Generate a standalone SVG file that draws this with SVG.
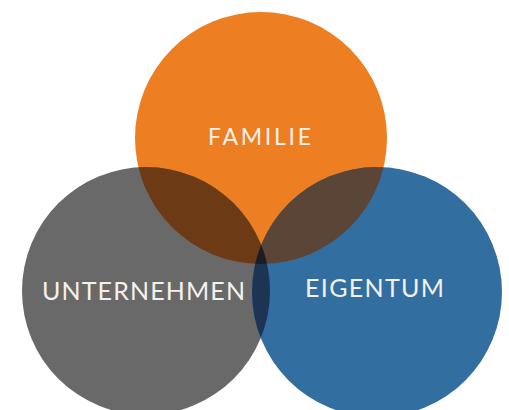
<svg xmlns="http://www.w3.org/2000/svg" width="509" height="410" viewBox="0 0 509 410">
  <style>
    .lbl { font-family: Lato, "Open Sans", "Liberation Sans", sans-serif; font-size: 25px; fill: #f4f1ec; letter-spacing: 1px; }
  </style>
  <defs>
    <clipPath id="cO"><circle cx="261" cy="138" r="126"/></clipPath>
    <clipPath id="cG"><circle cx="146" cy="291" r="124"/></clipPath>
    <clipPath id="cB"><circle cx="377" cy="292" r="125"/></clipPath>
  </defs>
  <rect width="509" height="410" fill="#ffffff"/>
  <g id="familie">
    <circle cx="261" cy="138" r="126" fill="#ee7e22"/>
  </g>
  <g id="unternehmen">
    <circle cx="146" cy="291" r="124" fill="#696969"/>
  </g>
  <g id="eigentum">
    <circle cx="377" cy="292" r="125" fill="#336ea0"/>
  </g>
  <g id="overlaps">
    <g clip-path="url(#cG)"><circle cx="261" cy="138" r="126" fill="#6c3a14"/></g>
    <g clip-path="url(#cB)"><circle cx="261" cy="138" r="126" fill="#5b4536"/></g>
    <g clip-path="url(#cB)"><circle cx="146" cy="291" r="124" fill="#1e3454"/></g>
    <g clip-path="url(#cB)"><g clip-path="url(#cO)"><circle cx="146" cy="291" r="124" fill="#1c1c22"/></g></g>
  </g>
  <g id="labels">
    <text class="lbl" x="208" y="145" textLength="104" lengthAdjust="spacing" style="font-size:23px">FAMILIE</text>
    <text class="lbl" x="42" y="300" textLength="204" lengthAdjust="spacing">UNTERNEHMEN</text>
    <text class="lbl" x="305" y="297" textLength="140" lengthAdjust="spacing">EIGENTUM</text>
  </g>
</svg>
